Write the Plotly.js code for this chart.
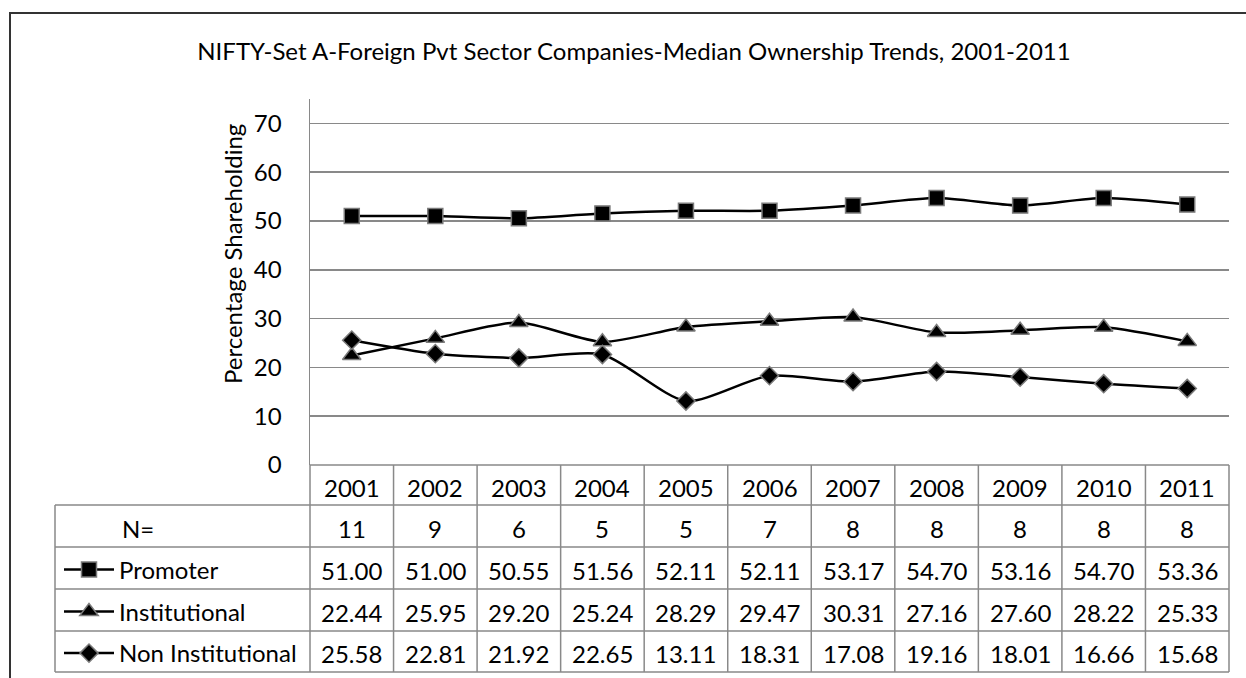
<!DOCTYPE html>
<html>
<head>
<meta charset="utf-8">
<script src="https://cdn.plot.ly/plotly-3.0.1.min.js"></script>
<style>html,body{margin:0;padding:0;background:#fff;}#chart{width:1246px;height:678px;}</style>
</head>
<body>
<div id="chart"></div>
<script>
// ---- data ----
const years = ['2001','2002','2003','2004','2005','2006','2007','2008','2009','2010','2011'];
const nCompanies = [11, 9, 6, 5, 5, 7, 8, 8, 8, 8, 8];
const promoter = [51.00, 51.00, 50.55, 51.56, 52.11, 52.11, 53.17, 54.70, 53.16, 54.70, 53.36];
const institutional = [22.44, 25.95, 29.20, 25.24, 28.29, 29.47, 30.31, 27.16, 27.60, 28.22, 25.33];
const nonInstitutional = [25.58, 22.81, 21.92, 22.65, 13.11, 18.31, 17.08, 19.16, 18.01, 16.66, 15.68];
const seriesNames = ['Promoter', 'Institutional', 'Non Institutional'];
const chartTitle = 'NIFTY-Set A-Foreign Pvt Sector Companies-Median Ownership Trends, 2001-2011';
const yTitle = 'Percentage Shareholding';

// ---- layout geometry (pixels) ----
const W = 1246, H = 678;
const L = 310, R = 1229, T = 99, B = 465;
const tableLeft = 55;
const rowEdges = [465, 505, 547, 589, 631, 672];
const textShift = 2;
const px = x => (x - L) / (R - L);
const py = y => (B - y) / (B - T);
const FONT = 'Lato, "Open Sans", sans-serif';
const FS = 24;
const gridCol = '#898989';

const markerLine = {color: '#7a7a7a', width: 1.5};
const seriesStyles = [
  {symbol: 'square', size: 15},
  {symbol: 'triangle-up', size: 16},
  {symbol: 'diamond', size: 14}
];
const seriesData = [promoter, institutional, nonInstitutional];
const legendIds = ['legend', 'legend2', 'legend3'];

const traces = seriesData.map((vals, i) => ({
  type: 'scatter', mode: 'lines+markers',
  x: years, y: vals, name: seriesNames[i],
  line: {color: '#000', width: 2.5, shape: 'spline', smoothing: 0.7},
  marker: {symbol: seriesStyles[i].symbol, size: seriesStyles[i].size, color: '#000', line: markerLine},
  legend: legendIds[i],
  cliponaxis: false,
  hoverinfo: 'x+y+name'
}));

const shapes = [];
const annotations = [];
const lineStyle = {color: gridCol, width: 1.5};

// outer frame
shapes.push({type: 'rect', xref: 'paper', yref: 'paper', x0: px(10), x1: px(1262), y0: py(13), y1: py(700),
  line: {color: '#333', width: 2}, fillcolor: 'rgba(0,0,0,0)', layer: 'below'});

// table horizontal lines
shapes.push({type: 'line', xref: 'paper', yref: 'paper', x0: 0, x1: 1, y0: py(rowEdges[0]), y1: py(rowEdges[0]), line: lineStyle});
for (let r = 1; r < rowEdges.length; r++) {
  shapes.push({type: 'line', xref: 'paper', yref: 'paper', x0: px(tableLeft), x1: 1,
    y0: py(rowEdges[r]), y1: py(rowEdges[r]), line: lineStyle});
}
// table vertical lines (column boundaries)
for (let c = 0; c <= years.length; c++) {
  const xp = c / years.length;
  shapes.push({type: 'line', xref: 'paper', yref: 'paper', x0: xp, x1: xp,
    y0: py(rowEdges[0]), y1: py(rowEdges[rowEdges.length - 1]), line: lineStyle});
}
// left edge of label column
shapes.push({type: 'line', xref: 'paper', yref: 'paper', x0: px(tableLeft), x1: px(tableLeft),
  y0: py(rowEdges[1]), y1: py(rowEdges[rowEdges.length - 1]), line: lineStyle});

const rowCenter = r => (rowEdges[r] + rowEdges[r + 1]) / 2 + textShift;
const tableRows = [
  years,
  nCompanies.map(String),
  promoter.map(v => v.toFixed(2)),
  institutional.map(v => v.toFixed(2)),
  nonInstitutional.map(v => v.toFixed(2))
];
tableRows.forEach((row, r) => {
  row.forEach((txt, c) => {
    annotations.push({xref: 'x', yref: 'paper', x: c, y: py(rowCenter(r)),
      text: txt, showarrow: false, xanchor: 'center', yanchor: 'middle',
      font: {family: FONT, size: FS, color: '#000'}});
  });
});
// N= label
annotations.push({xref: 'paper', yref: 'paper', x: px(120), y: py(rowCenter(1)), text: 'N=',
  showarrow: false, xanchor: 'left', yanchor: 'middle', font: {family: FONT, size: FS, color: '#000'}});
// y title
annotations.push({xref: 'paper', yref: 'paper', x: px(232), y: py(254), text: yTitle, textangle: -90,
  showarrow: false, xanchor: 'center', yanchor: 'middle', font: {family: FONT, size: FS, color: '#000'}});

const legendBase = r => ({
  x: px(59), xanchor: 'left', y: py(rowCenter(r)), yanchor: 'middle',
  bgcolor: 'rgba(0,0,0,0)', borderwidth: 0, font: {family: FONT, size: FS, color: '#000'},
  itemwidth: 50, orientation: 'v'
});

const layout = {
  width: W, height: H,
  margin: {l: L, r: W - R, t: T, b: H - B, pad: 0, autoexpand: false},
  paper_bgcolor: '#fff', plot_bgcolor: '#fff',
  font: {family: FONT, size: FS, color: '#000'},
  title: {text: chartTitle, x: 634 / W, xanchor: 'center', xref: 'container',
    y: 1 - 52 / H, yanchor: 'middle', yref: 'container', font: {family: FONT, size: FS, color: '#000'}},
  xaxis: {type: 'category', range: [-0.5, years.length - 0.5], showticklabels: false, ticks: '',
    showgrid: false, zeroline: false, showline: false, fixedrange: true, automargin: false},
  yaxis: {range: [0, 75], dtick: 10, tick0: 0, showgrid: true, gridcolor: gridCol, gridwidth: 1.5,
    zeroline: false, showline: true, linecolor: gridCol, linewidth: 1.5, ticks: '',
    ticklabelstandoff: 22, tickfont: {family: FONT, size: FS, color: '#000'}, fixedrange: true, automargin: false},
  showlegend: true,
  legend: legendBase(2),
  legend2: legendBase(3),
  legend3: legendBase(4),
  shapes: shapes,
  annotations: annotations
};

Plotly.newPlot('chart', traces, layout, {displayModeBar: false, staticPlot: true});
</script>
</body>
</html>
